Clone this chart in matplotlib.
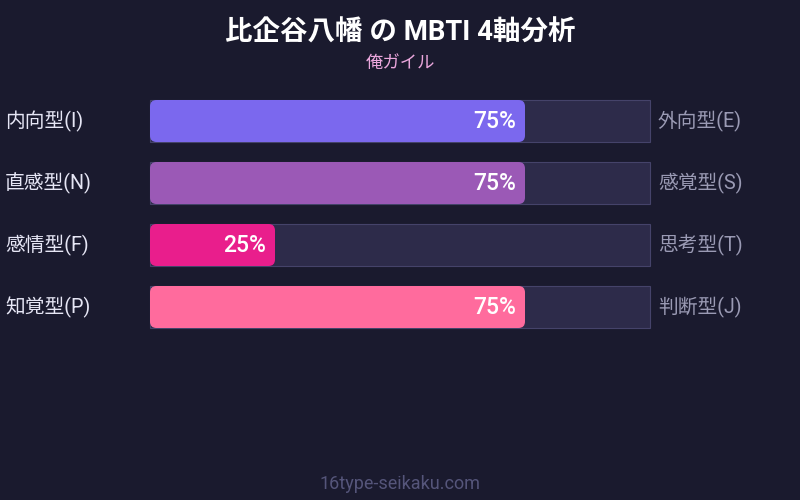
import matplotlib
matplotlib.use("Agg")
import matplotlib.pyplot as plt
from matplotlib.patches import FancyBboxPatch, Rectangle

plt.rcParams['font.family'] = ['Roboto', 'Noto Sans CJK JP', 'DejaVu Sans']

title = "比企谷八幡 の MBTI 4軸分析"
subtitle = "俺ガイル"
footer = "16type-seikaku.com"
left_labels = ["内向型(I)", "直感型(N)", "感情型(F)", "知覚型(P)"]
right_labels = ["外向型(E)", "感覚型(S)", "思考型(T)", "判断型(J)"]
values = [75, 75, 25, 75]
colors = ["#7b68ee", "#9b59b6", "#e91e8c", "#ff6b9d"]

BG = "#1a1a2e"
fig = plt.figure(figsize=(8, 5), dpi=100, facecolor=BG)

# axes covering bar area: x px 150..650, y px 90..338
W, H = 800, 500
ax = fig.add_axes([150 / W, 1 - 338 / H, 500 / W, 248 / H])
ax.set_facecolor(BG)
ax.set_xlim(0, 100)
ax.set_ylim(len(values) - 0.5, -0.5)
ax.axis("off")

bar_h = 42 / 62
aspect = (1 / 62) / (1 / 5)
for i, (v, c) in enumerate(zip(values, colors)):
    ax.add_patch(Rectangle((0, i - bar_h / 2), 100, bar_h, facecolor="#2d2b4a",
                           edgecolor="#45436a", linewidth=0.8, clip_on=False))
    ax.add_patch(FancyBboxPatch((0, i - bar_h / 2), v, bar_h,
                                boxstyle="round,pad=0,rounding_size=1.3",
                                mutation_aspect=aspect, facecolor=c,
                                edgecolor="none", clip_on=False))
    ax.text(v - 1.8, i, f"{v}%", ha="right", va="center", color="white",
            fontsize=16.5, fontweight="medium")
    ax.annotate(left_labels[i], xy=(0, i), xycoords="data",
                xytext=(5 / W, 0), textcoords=("figure fraction", "offset points"),
                ha="left", va="center", color="#e6e6f5", fontsize=14.2)
    ax.annotate(right_labels[i], xy=(0, i), xycoords="data",
                xytext=(658 / W, 0), textcoords=("figure fraction", "offset points"),
                ha="left", va="center", color="#9a9ab4", fontsize=14.2)

fig.text(0.5, 1 - 33 / H, title, ha="center", va="center", color="white",
         fontsize=19.8, fontweight="bold")
fig.text(0.5, 1 - 63 / H, subtitle, ha="center", va="center", color="#eaa6dc",
         fontsize=12.5)
fig.text(0.5, 1 - 484 / H, footer, ha="center", va="center", color="#55557a",
         fontsize=13)

fig.savefig("out.png", dpi=100, facecolor=BG)
